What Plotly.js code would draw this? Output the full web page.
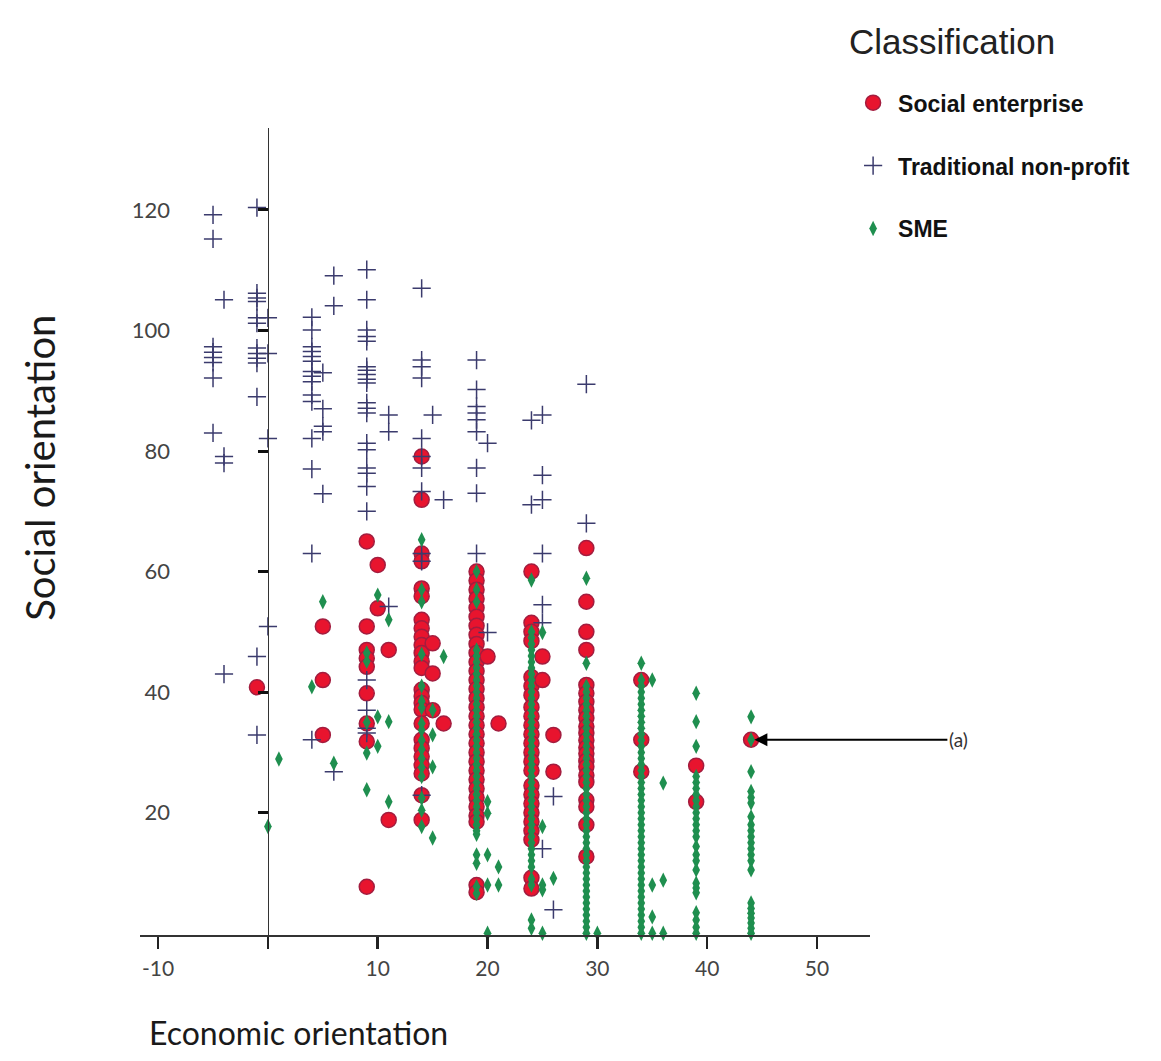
<!DOCTYPE html>
<html>
<head>
<meta charset="utf-8">
<script src="https://cdn.plot.ly/plotly-3.0.1.min.js"></script>
<style>html,body{margin:0;padding:0;background:#fff;}#chart{width:1161px;height:1061px;}</style>
</head>
<body>
<div id="chart"></div>
<script>
// ---- Data (economic orientation columns -> social orientation values) ----
const seCols = [-1, 5, 9, 10, 11, 14, 15, 16, 19, 20, 21, 24, 25, 26, 29, 34, 39, 44];
const seVals = [
  [40.8],
  [50.9, 42.0, 32.9],
  [65.0, 50.9, 47.0, 45.6, 44.2, 39.8, 34.8, 31.8, 7.7],
  [61.1, 53.9],
  [47.0, 18.8],
  [79.1, 71.9, 63.0, 61.7, 57.2, 55.9, 52.0, 50.6, 49.2, 47.8, 46.5, 45.1, 44.0, 40.4, 39.3, 38.2, 37.1, 34.8, 32.1, 30.7, 29.3, 27.9, 26.5, 22.9, 18.8],
  [48.1, 43.1, 37.0],
  [34.8],
  [60.0, 58.5, 57.0, 55.5, 54.0, 52.5, 51.0, 49.5, 48.0, 46.5, 45.0, 43.5, 42.0, 40.5, 39.0, 37.5, 36.0, 34.5, 33.0, 31.5, 30.0, 28.5, 27.0, 25.5, 24.0, 22.5, 21.0, 19.5, 18.5, 8.0, 6.8],
  [45.9],
  [34.8],
  [60.0, 51.5, 50.0, 48.5, 42.5, 41.0, 39.5, 37.5, 36.0, 34.5, 33.0, 31.5, 30.0, 28.5, 27.0, 24.5, 23.0, 21.5, 20.0, 18.5, 17.0, 15.5, 9.2, 7.4],
  [45.9, 42.0],
  [32.9, 26.8],
  [63.9, 55.0, 50.0, 47.0, 41.2, 39.8, 38.4, 37.0, 35.7, 34.3, 33.2, 32.0, 30.8, 29.8, 28.6, 27.6, 26.2, 25.1, 22.1, 21.0, 18.0, 12.7],
  [42.0, 32.1, 26.8],
  [27.8, 21.8],
  [32.1]
];

const tnpCols = [-5, -4, -1, 0, 4, 5, 6, 9, 11, 14, 15, 16, 19, 20, 24, 25, 26, 29];
const tnpVals = [
  [119.2, 115.2, 97.3, 96.4, 95.5, 94.7, 92.1, 83.0],
  [105.1, 79.1, 78.0, 43.0],
  [120.4, 106.2, 105.4, 104.8, 102.1, 101.2, 97.1, 96.2, 95.4, 94.6, 89.0, 45.9, 32.9],
  [102.1, 96.2, 82.1, 50.9],
  [102.2, 100.1, 97.3, 96.5, 95.7, 94.9, 93.2, 92.4, 91.5, 89.3, 88.2, 82.1, 77.0, 63.0, 32.1],
  [93.0, 87.0, 84.1, 83.2, 72.9],
  [109.1, 104.1, 26.8],
  [110.1, 105.1, 100.1, 99.0, 98.2, 94.0, 93.4, 92.7, 91.9, 91.3, 88.0, 87.1, 86.3, 81.3, 80.2, 77.2, 76.3, 74.1, 70.0, 42.0, 37.0, 34.0, 33.2],
  [86.0, 83.2, 54.2],
  [107.0, 95.1, 94.0, 92.1, 82.1, 79.1, 77.2, 73.3, 63.0, 61.7, 22.9],
  [86.0],
  [71.9],
  [95.1, 90.2, 87.4, 86.3, 85.2, 83.2, 77.2, 73.0, 63.0],
  [81.3, 49.9],
  [85.1, 71.1],
  [86.0, 76.0, 71.9, 63.0, 54.5, 51.5, 14.0],
  [22.7, 3.9],
  [91.1, 68.0]
];

const smeCols = [0, 1, 4, 5, 6, 9, 10, 11, 14, 15, 16, 19, 20, 21, 24, 25, 26, 29, 30, 34, 35, 36, 39, 44];
const smeVals = [
  [17.7],
  [28.9],
  [40.9],
  [55.0],
  [28.2],
  [46.5, 45.1, 35.0, 29.9, 23.8],
  [56.1, 35.9, 31.0],
  [52.0, 35.1, 21.8],
  [65.3, 57.0, 55.0, 46.3, 41.0, 38.5, 37.4, 34.8, 33.7, 32.0, 30.5, 29.0, 27.5, 26.0, 22.4, 20.4, 17.7],
  [37.0, 32.9, 27.6, 15.8],
  [45.9],
  [60.0, 57.0, 55.0, 47.0, 46.0, 45.0, 44.0, 43.0, 42.0, 41.0, 40.0, 39.0, 38.0, 37.0, 36.0, 35.0, 34.0, 33.0, 32.0, 31.0, 30.0, 29.0, 28.0, 27.0, 26.0, 25.0, 24.0, 23.0, 22.0, 21.0, 20.0, 19.0, 18.0, 17.0, 16.4, 13.0, 11.6, 7.7, 6.6],
  [21.8, 19.9, 13.0, 8.0, 0.0],
  [11.0, 8.0],
  [58.6, 50.0, 49.0, 48.0, 47.0, 46.0, 45.0, 44.0, 43.0, 42.0, 41.0, 40.0, 39.0, 38.0, 37.0, 36.0, 35.0, 34.0, 33.0, 32.0, 31.0, 30.0, 29.0, 28.0, 27.0, 26.0, 25.0, 24.0, 23.0, 22.0, 21.0, 20.0, 19.0, 18.0, 17.0, 16.0, 15.0, 14.0, 13.0, 12.0, 11.0, 9.0, 8.0, 2.2, 0.8],
  [49.9, 17.7, 8.0, 7.2, 0.0],
  [9.1],
  [58.9, 44.8, 41.0, 40.0, 39.0, 38.0, 37.0, 36.0, 35.0, 34.0, 33.0, 32.0, 31.0, 30.0, 29.0, 28.0, 27.0, 26.0, 25.0, 24.0, 23.0, 22.0, 21.0, 20.0, 19.0, 18.0, 17.0, 16.0, 15.0, 14.0, 13.0, 12.0, 11.0, 10.0, 9.0, 8.0, 7.0, 6.0, 5.0, 4.0, 3.0, 2.0, 1.0, 0.0],
  [0.0],
  [44.8, 42.0, 41.0, 40.0, 39.0, 38.0, 37.0, 36.0, 35.0, 34.0, 33.0, 32.0, 31.0, 30.0, 29.0, 28.0, 27.0, 26.0, 25.0, 24.0, 23.0, 22.0, 21.0, 20.0, 19.0, 18.0, 17.0, 16.0, 15.0, 14.0, 13.0, 12.0, 11.0, 10.0, 9.0, 8.0, 7.0, 6.0, 5.0, 4.0, 3.0, 2.0, 1.0, 0.0],
  [42.0, 8.0, 2.7, 0.0],
  [24.9, 8.8, 0.0],
  [39.8, 35.1, 31.0, 26.0, 25.0, 24.0, 23.0, 22.0, 21.0, 20.0, 19.0, 18.0, 17.0, 16.0, 14.4, 13.0, 12.0, 10.5, 8.3, 7.5, 6.7, 3.4, 2.2, 1.0, 0.0],
  [35.9, 32.1, 26.8, 23.5, 22.5, 21.6, 19.3, 18.0, 17.0, 16.0, 15.0, 14.0, 13.0, 12.0, 10.5, 5.0, 4.1, 3.3, 2.5, 1.7, 0.8, 0.0]
];

const seriesNames = ['Social enterprise', 'Traditional non-profit', 'SME'];
const legendTitle = 'Classification';
const xTickVals = [-10, 0, 10, 20, 30, 40, 50];
const xTickText = ['-10', '', '10', '20', '30', '40', '50'];
const yTickVals = [20, 40, 60, 80, 100, 120];
const annotationPoint = {x: 44.3, y: 32.1, label: '(a)'};

function flatten(cols, vals) {
  const xs = [], ys = [];
  cols.forEach((c, i) => vals[i].forEach(v => { xs.push(c); ys.push(v); }));
  return {xs, ys};
}

const se = flatten(seCols, seVals);
const tnp = flatten(tnpCols, tnpVals);
const sme = flatten(smeCols, smeVals);

const traces = [
  {
    type: 'scatter', mode: 'markers', name: seriesNames[0], legendgroup: 'a',
    x: se.xs, y: se.ys, cliponaxis: false,
    marker: {symbol: 'circle', size: 15, color: '#e8142e', line: {color: '#a31d3f', width: 1.5}}
  },
  {
    type: 'scatter', mode: 'markers', name: seriesNames[1], legendgroup: 'b',
    x: tnp.xs, y: tnp.ys, cliponaxis: false,
    marker: {symbol: 'cross-thin-open', size: 13, color: '#3b3b6d', line: {color: '#3b3b6d', width: 1.5}}
  },
  {
    type: 'scatter', mode: 'markers', name: seriesNames[2], legendgroup: 'c',
    x: sme.xs, y: sme.ys, cliponaxis: false,
    marker: {symbol: 'diamond-tall', size: 11, color: '#1f8f4f', line: {width: 0}}
  },
  {
    // carrier for the vertical axis drawn at economic orientation = 0
    type: 'scatter', mode: 'markers', x: [], y: [], yaxis: 'y2',
    showlegend: false, hoverinfo: 'skip'
  }
];

const xr = [-11.65, 54.83];
const yr = [-0.3, 133.6];
const zeroPos = (0 - xr[0]) / (xr[1] - xr[0]);

const layout = {
  width: 1161, height: 1061,
  margin: {l: 140, r: 291, t: 128, b: 126},
  paper_bgcolor: '#ffffff', plot_bgcolor: '#ffffff',
  font: {family: 'Lato, "Open Sans", sans-serif', color: '#444'},
  showlegend: true,
  legend: {
    x: 0.97, xanchor: 'left', y: 1.058, yanchor: 'top',
    bgcolor: 'rgba(0,0,0,0)', traceorder: 'grouped', tracegroupgap: 30,
    itemwidth: 40,
    font: {family: '"Liberation Sans", Arial, sans-serif', size: 23, color: '#111', weight: 'bold'}
  },
  xaxis: {
    range: xr, showgrid: false, zeroline: false,
    showline: true, linecolor: '#333', linewidth: 1.5,
    ticks: 'outside', ticklen: 12, tickwidth: 2.5, tickcolor: '#222',
    tickvals: xTickVals, ticktext: xTickText, ticklabelstandoff: 2,
    tickfont: {family: 'Lato, "Open Sans", sans-serif', size: 21, color: '#444'}
  },
  yaxis: {
    range: yr, showgrid: false, zeroline: false, showline: false,
    anchor: 'free', position: 0.041, side: 'left',
    ticks: '', tickvals: yTickVals,
    tickfont: {family: 'Lato, "Open Sans", sans-serif', size: 22, color: '#444'}
  },
  yaxis2: {
    range: yr, overlaying: 'y', anchor: 'free', position: zeroPos, side: 'left',
    showgrid: false, zeroline: false, showline: true, linecolor: '#333', linewidth: 1.5,
    ticks: 'outside', ticklen: 10, tickwidth: 3, tickcolor: '#111',
    tickvals: yTickVals, showticklabels: false
  },
  annotations: [
    {
      x: annotationPoint.x, y: annotationPoint.y, xref: 'x', yref: 'y',
      text: annotationPoint.label, showarrow: true, arrowhead: 2, arrowsize: 1.3,
      arrowwidth: 2, arrowcolor: '#000', ax: 204, ay: 0, standoff: 0,
      font: {family: 'Lato, sans-serif', size: 19, color: '#333'}
    },
    {
      text: legendTitle, xref: 'paper', yref: 'paper',
      x: 0.968, xanchor: 'left', y: 1.107, yanchor: 'middle', showarrow: false,
      font: {family: '"Liberation Sans", Arial, sans-serif', size: 35, color: '#222'}
    },
    {
      text: 'Economic orientation', xref: 'paper', yref: 'paper',
      x: 0.0096, xanchor: 'left', y: -0.121, yanchor: 'middle', showarrow: false,
      font: {family: 'Lato, sans-serif', size: 32, color: '#1a1a1a'}
    },
    {
      text: 'Social orientation', xref: 'paper', yref: 'paper', textangle: -90,
      x: -0.137, xanchor: 'center', y: 0.579, yanchor: 'middle', showarrow: false,
      font: {family: 'Lato, sans-serif', size: 40, color: '#1a1a1a'}
    }
  ]
};

Plotly.newPlot('chart', traces, layout, {displayModeBar: false, staticPlot: true});
</script>
</body>
</html>
